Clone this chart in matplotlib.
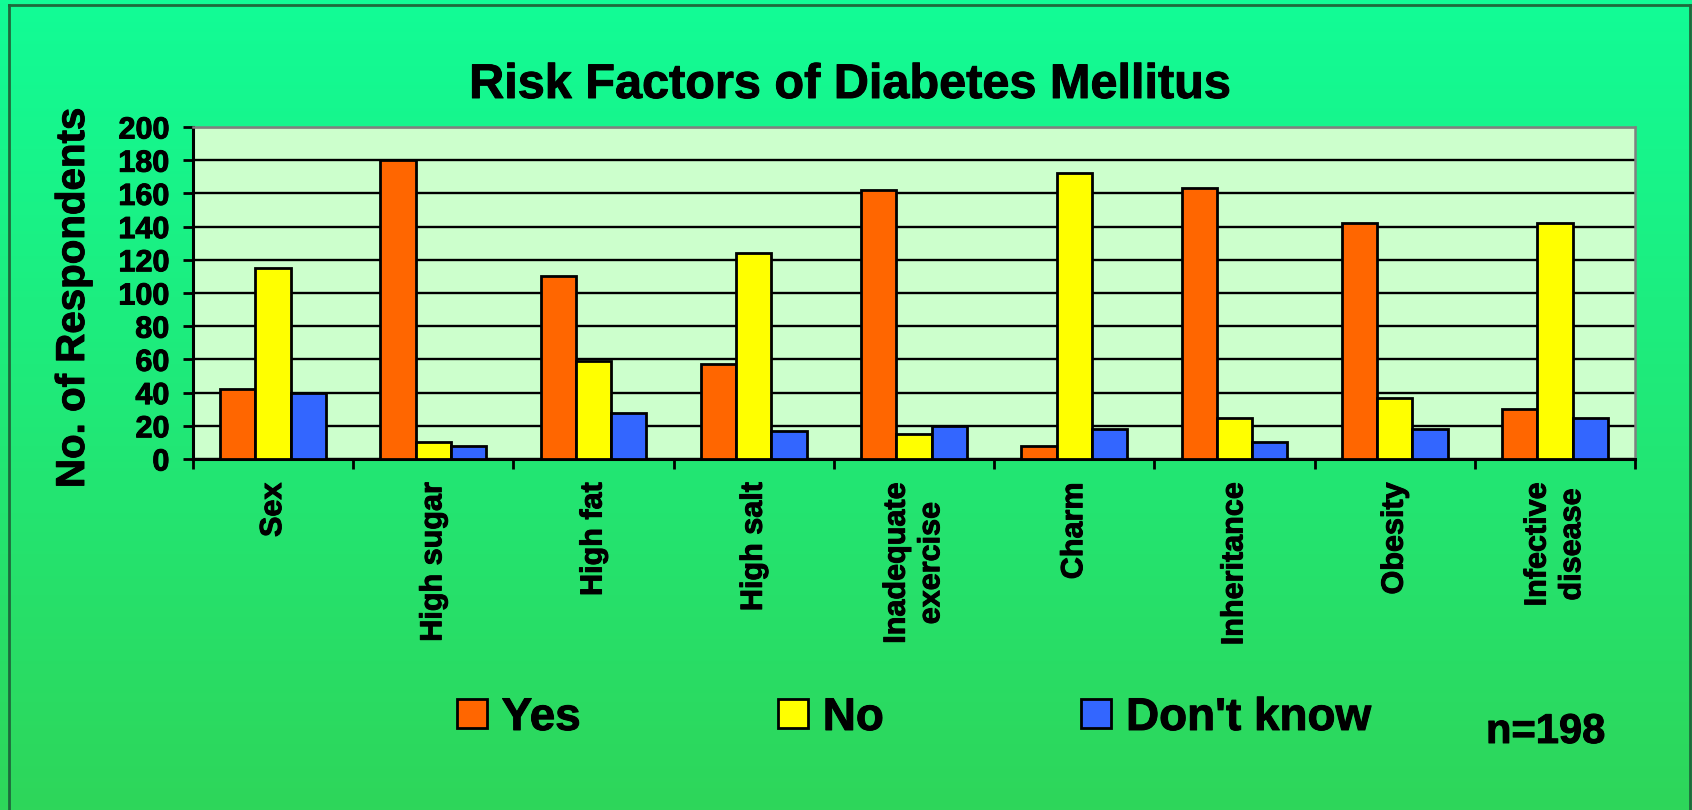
import numpy as np
import matplotlib
matplotlib.use("Agg")
import matplotlib.pyplot as plt
import matplotlib.patheffects as pe
from matplotlib.colors import LinearSegmentedColormap
from matplotlib.patches import Patch
from matplotlib.lines import Line2D

plt.rcParams['font.family'] = ['Liberation Sans', 'DejaVu Sans']
plt.rcParams['font.weight'] = 'bold'

# survey data, n=198
factors = ['Sex', 'High sugar', 'High fat', 'High salt', 'Inadequate\nexercise',
           'Charm', 'Inheritance', 'Obesity', 'Infective\ndisease']
yes = [42, 180, 110, 57, 162, 8, 163, 142, 30]
no = [115, 10, 59, 124, 15, 172, 25, 37, 142]
dont_know = [40, 8, 28, 17, 20, 18, 10, 18, 25]
series = ['Yes', 'No', "Don't know"]
colors = ['#FF6600', '#FFFF00', '#3366FF']

# a touch of extra stroke so the bold text reads heavier
heavy = [pe.withStroke(linewidth=0.7, foreground='black')]

W, H = 1692, 810
fig = plt.figure(figsize=(W / 100, H / 100), dpi=100)

# green gradient backdrop
bg = fig.add_axes([0, 0, 1, 1], zorder=-10)
grad = LinearSegmentedColormap.from_list('bg', ['#12FC96', '#2ED65A'])
bg.imshow(np.linspace(0, 1, 256).reshape(-1, 1), aspect='auto', cmap=grad,
          extent=[0, 1, 0, 1])
bg.set_xlim(0, 1)
bg.set_ylim(0, 1)
bg.axis('off')
frame_col = '#1E6A3C'
bg.add_line(Line2D([9 / W, 9 / W], [0, 1 - 5 / H], color=frame_col, lw=2))
bg.add_line(Line2D([1690 / W, 1690 / W], [0, 1 - 5 / H], color=frame_col, lw=2))
bg.add_line(Line2D([9 / W, 1690 / W], [1 - 5 / H, 1 - 5 / H], color=frame_col, lw=2))

ax = fig.add_axes([193 / W, 1 - 459 / H, (1635 - 193) / W, (459 - 127) / H])
ax.set_facecolor('#CCFFCC')

x = np.arange(len(factors))
bw = 0.22
for i, (vals, c) in enumerate(zip([yes, no, dont_know], colors)):
    ax.bar(x + (i - 1) * bw, vals, bw, color=c, edgecolor='black', linewidth=2.0,
           zorder=3)

ax.set_xlim(-0.5, len(factors) - 0.5)
ax.set_ylim(0, 200)
ax.set_yticks(range(0, 201, 20))
ax.yaxis.grid(True, color='black', linewidth=1.7)
ax.set_axisbelow(True)
ax.tick_params(axis='y', length=7, width=2, pad=10, labelsize=22)
for lab in ax.get_yticklabels():
    lab.set_fontweight('bold')
    lab.set_path_effects(heavy)

# ticks at category boundaries, labels at the centres
ax.set_xticks(np.arange(-0.5, len(factors), 1.0))
ax.set_xticklabels([])
ax.tick_params(axis='x', which='major', length=7, width=2, direction='out')
ax.set_xticks(x, minor=True)
ax.set_xticklabels(factors, minor=True, rotation=90, fontsize=22,
                   fontweight='bold', va='top', ha='center')
ax.tick_params(axis='x', which='minor', length=0, pad=17)
for lab in ax.get_xticklabels(minor=True):
    lab.set_path_effects(heavy)

for s in ['left', 'bottom']:
    ax.spines[s].set_color('black')
    ax.spines[s].set_linewidth(2.2)
for s in ['top', 'right']:
    ax.spines[s].set_color('#808080')
    ax.spines[s].set_linewidth(1.8)

fig.text(850 / W, 1 - 98 / H, 'Risk Factors of Diabetes Mellitus', ha='center',
         va='baseline', fontsize=35, fontweight='bold', path_effects=heavy)
fig.text(73 / W, 1 - 298 / H, 'No. of Respondents', rotation=90, ha='center',
         va='center', fontsize=29, fontweight='bold', path_effects=heavy)

handles = [Patch(facecolor=c, edgecolor='black', linewidth=2.0) for c in colors]
leg = fig.legend(handles, series, loc='center', bbox_to_anchor=(914 / W, 1 - 718 / H),
                 ncol=3, frameon=False, prop={'size': 33, 'weight': 'bold'},
                 handlelength=0.65, handleheight=0.6, handletextpad=0.33,
                 columnspacing=4.3, borderpad=0)
for t in leg.get_texts():
    t.set_path_effects(heavy)

fig.text(1486 / W, 1 - 743 / H, 'n=198', ha='left', va='baseline', fontsize=30,
         fontweight='bold', path_effects=heavy)

fig.savefig('out.png', dpi=100)
